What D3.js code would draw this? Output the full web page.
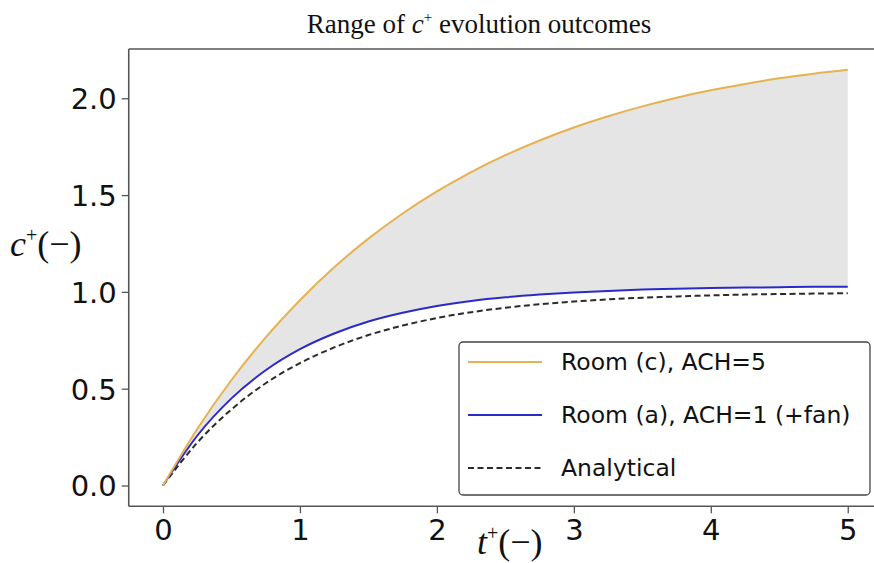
<!DOCTYPE html>
<html><head><meta charset="utf-8">
<script src="https://cdn.jsdelivr.net/npm/d3@7"></script>
<style>
html,body{margin:0;padding:0;background:#fff;}
svg{display:block;}
</style></head>
<body>
<svg id="chart" width="874" height="563"></svg>
<script>
const tValues = [0,0.25,0.5,0.75,1,1.25,1.5,1.75,2,2.25,2.5,2.75,3,3.25,3.5,3.75,4,4.25,4.5,4.75,5];
const roomC = [0,0.292,0.545,0.765,0.957,1.127,1.275,1.405,1.519,1.619,1.706,1.782,1.849,1.907,1.958,2.003,2.041,2.074,2.103,2.127,2.147];
const roomA = [0,0.257,0.450,0.595,0.704,0.785,0.847,0.892,0.927,0.953,0.972,0.986,0.997,1.005,1.012,1.016,1.020,1.022,1.024,1.026,1.027];
const analytical = [0,0.221,0.393,0.528,0.632,0.713,0.777,0.826,0.865,0.895,0.918,0.936,0.950,0.961,0.970,0.976,0.982,0.986,0.989,0.991,0.993];
const xTicks = [0,1,2,3,4,5];
const yTicks = [0.0,0.5,1.0,1.5,2.0];
const seriesNames = ["Room (c), ACH=5","Room (a), ACH=1 (+fan)","Analytical"];

const svg = d3.select("#chart");
const pL = 128.75, pR = 882, pT = 49, pB = 506.3;
const x = d3.scaleLinear().domain([-0.25,5.25]).range([pL,pR]);
const y = d3.scaleLinear().domain([-0.1074,2.2544]).range([pB,pT]);

const pts = (arr) => tValues.map((t,i)=>[t,arr[i]]);
const line = d3.line().x(d=>x(d[0])).y(d=>y(d[1])).curve(d3.curveMonotoneX);

// fill between
const area = d3.area().x((d,i)=>x(tValues[i])).y0((d,i)=>y(roomA[i])).y1((d,i)=>y(roomC[i])).curve(d3.curveMonotoneX);
svg.append("path").datum(tValues).attr("d",area).attr("fill","#e5e5e5");

svg.append("path").datum(pts(analytical)).attr("d",line).attr("fill","none")
  .attr("stroke","#2b2b2b").attr("stroke-width",2).attr("stroke-dasharray","6,3.5");
svg.append("path").datum(pts(roomA)).attr("d",line).attr("fill","none")
  .attr("stroke","#2a2ac8").attr("stroke-width",2);
svg.append("path").datum(pts(roomC)).attr("d",line).attr("fill","none")
  .attr("stroke","#e6b24f").attr("stroke-width",2);

// axes
const xAxis = d3.axisBottom(x).tickValues(xTicks).tickFormat(d3.format("d")).tickSize(7).tickPadding(6);
const yAxis = d3.axisLeft(y).tickValues(yTicks).tickFormat(d3.format(".1f")).tickSize(7).tickPadding(5);
const gx = svg.append("g").attr("transform",`translate(0,${pB})`).call(xAxis);
const gy = svg.append("g").attr("transform",`translate(${pL},0)`).call(yAxis);
[gx,gy].forEach(g=>{
  g.select(".domain").remove();
  g.selectAll(".tick line").attr("stroke","#555").attr("stroke-width",1.3);
  g.selectAll(".tick text").attr("font-family","DejaVu Sans").attr("font-size",29).attr("fill","#111");
});
gy.selectAll(".tick text").attr("dy","0.36em");

// spines
svg.append("line").attr("x1",pL).attr("x2",pL).attr("y1",pT).attr("y2",pB).attr("stroke","#555").attr("stroke-width",1.6);
svg.append("line").attr("x1",pL).attr("x2",pR).attr("y1",pB).attr("y2",pB).attr("stroke","#555").attr("stroke-width",1.6);
svg.append("line").attr("x1",pL).attr("x2",pR).attr("y1",pT).attr("y2",pT).attr("stroke","#555").attr("stroke-width",1.6);

// title
const title = svg.append("text").attr("x",479).attr("y",33).attr("text-anchor","middle")
  .attr("font-family","Liberation Serif").attr("font-size",27).attr("fill","#111");
title.append("tspan").text("Range of ");
title.append("tspan").attr("font-style","italic").text("c");
title.append("tspan").attr("font-size",15).attr("dy",-11).text("+");
title.append("tspan").attr("dy",11).text(" evolution outcomes");

// y label
const yl = svg.append("text").attr("x",10).attr("y",256)
  .attr("font-family","Liberation Serif").attr("font-size",36).attr("fill","#111");
yl.append("tspan").attr("font-style","italic").text("c");
yl.append("tspan").attr("font-size",20).attr("dy",-14).text("+");
yl.append("tspan").attr("dy",14).text("(\u2212)");

// x label
const xl = svg.append("text").attr("x",477).attr("y",554)
  .attr("font-family","Liberation Serif").attr("font-size",36).attr("fill","#111");
xl.append("tspan").attr("font-style","italic").text("t");
xl.append("tspan").attr("font-size",20).attr("dy",-14).text("+");
xl.append("tspan").attr("dy",14).text("(\u2212)");

// legend
const lg = svg.append("g");
lg.append("rect").attr("x",459).attr("y",342).attr("width",411).attr("height",153).attr("rx",4)
  .attr("fill","#fff").attr("stroke","#444").attr("stroke-width",1.3);
const legItems = [
  {name:seriesNames[0], color:"#e6b24f", dash:null},
  {name:seriesNames[1], color:"#2a2ac8", dash:null},
  {name:seriesNames[2], color:"#2b2b2b", dash:"6,3.5"}
];
const ly = d3.scalePoint().domain(seriesNames).range([362,468]);
legItems.forEach(it=>{
  const yy = ly(it.name);
  lg.append("line").attr("x1",468).attr("x2",542).attr("y1",yy).attr("y2",yy)
    .attr("stroke",it.color).attr("stroke-width",2).attr("stroke-dasharray",it.dash);
  lg.append("text").attr("x",561).attr("y",yy).attr("dy","0.36em")
    .attr("font-family","DejaVu Sans").attr("font-size",23.5).attr("fill","#111").text(it.name);
});
</script>
</body></html>
